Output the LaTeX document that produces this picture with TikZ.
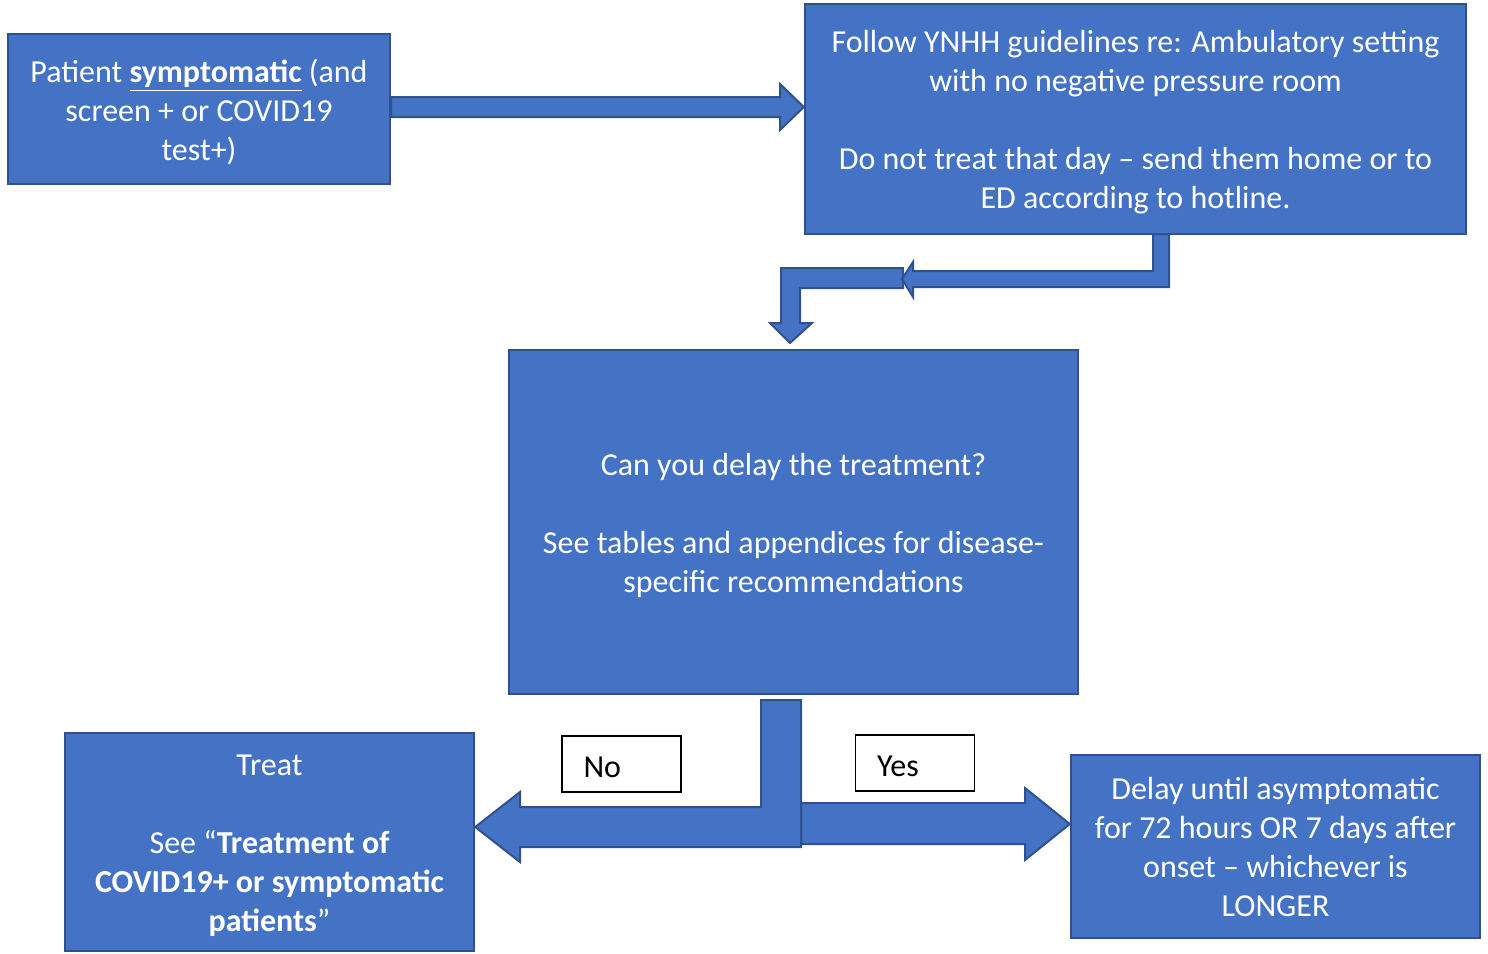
\documentclass[tikz,border=0pt]{standalone}
\usepackage{fontspec}
\setmainfont{Carlito}
\usepackage{tikz}
\usetikzlibrary{positioning}
\definecolor{boxblue}{HTML}{4472C4}
\definecolor{edgeblue}{HTML}{2F528F}
\newcommand{\firststrut}{\rule{0pt}{14.5pt}}
\tikzset{
x=0.5pt, y=-0.5pt, % one unit is one pixel of the page, y runs down
infobox/.style={draw=edgeblue, fill=boxblue, line width=1.2pt, text=white, align=center, inner sep=0pt, font=\fontsize{16}{19.5}\selectfont}, % the blue boxes
answerbox/.style={draw=black, fill=white, line width=0.6pt, minimum width=59.5pt, minimum height=28pt, text width=38pt, align=left, inner sep=0pt, font=\fontsize{16}{19.5}\selectfont, execute at begin node={\rule{0pt}{13.5pt}}}, % the No / Yes labels
blockarrow/.style={draw=edgeblue, fill=boxblue, line width=1pt, line join=miter}, % wide arrows
}
\begin{document}
\begin{tikzpicture}
		\useasboundingbox (0,0) rectangle (1488,953);
		\node[infobox, minimum width=191pt, minimum height=75pt] (pat) at (199,109) {\firststrut Patient \underline{\textbf{symptomatic}} (and\\ screen + or COVID19\\ test+)};
		\node[infobox, minimum width=330.5pt, minimum height=115pt] (fol) at (1135.5,119) {\firststrut Follow YNHH guidelines re: Ambulatory setting\\ with no negative pressure room\\[\baselineskip] Do not treat that day -- send them home or to\\ ED according to hotline.};
		\node[infobox, minimum width=284.5pt, minimum height=172pt] (can) at (793.5,522) {\firststrut Can you delay the treatment?\\[\baselineskip] See tables and appendices for disease-\\ specific recommendations};
		\node[infobox, minimum width=204.5pt, minimum height=109pt] (treat) at (269.5,842) {\firststrut Treat\\[\baselineskip] See “\textbf{Treatment of}\\ \textbf{COVID19+ or symptomatic}\\ \textbf{patients}”};
		\node[infobox, minimum width=204.5pt, minimum height=91.5pt] (delay) at (1275.5,846.5) {Delay until asymptomatic\\ for 72 hours OR 7 days after\\ onset -- whichever is\\ LONGER};
		\node[answerbox] (no) at (621.5,764) {No};
		\node[answerbox] (yes) at (915,763) {Yes};
		% patient -> guidelines
		\draw[blockarrow] (pat.east |- 0,97) -- (780,97) -- (780,84) -- (fol.west |- 0,107) -- (780,130) -- (780,117) -- (pat.east |- 0,117) -- cycle;
		% guidelines -> question, drawn in two bent pieces
		\draw[blockarrow] (903,268) -- (781,268) -- (781,323) -- (770,323) -- (790,343) -- (812,323) -- (800,323) -- (800,288) -- (903,288) -- cycle;
		\draw[blockarrow] (1153,234) -- (1169,234) -- (1169,287) -- (913,287) -- (913,297) -- (902,279) -- (913,262) -- (913,271) -- (1153,271) -- cycle;
		% yes -> delay
		\draw[blockarrow] (801,803) -- (1025,803) -- (1025,788) -- (delay.west |- 0,824) -- (1025,860) -- (1025,844) -- (801,844) -- cycle;
		% no -> treat
		\draw[blockarrow] (761,700) -- (801,700) -- (801,847) -- (520,847) -- (520,862) -- (treat.east |- 0,827) -- (520,792) -- (520,807) -- (761,807) -- cycle;
	\end{tikzpicture}
\end{document}
